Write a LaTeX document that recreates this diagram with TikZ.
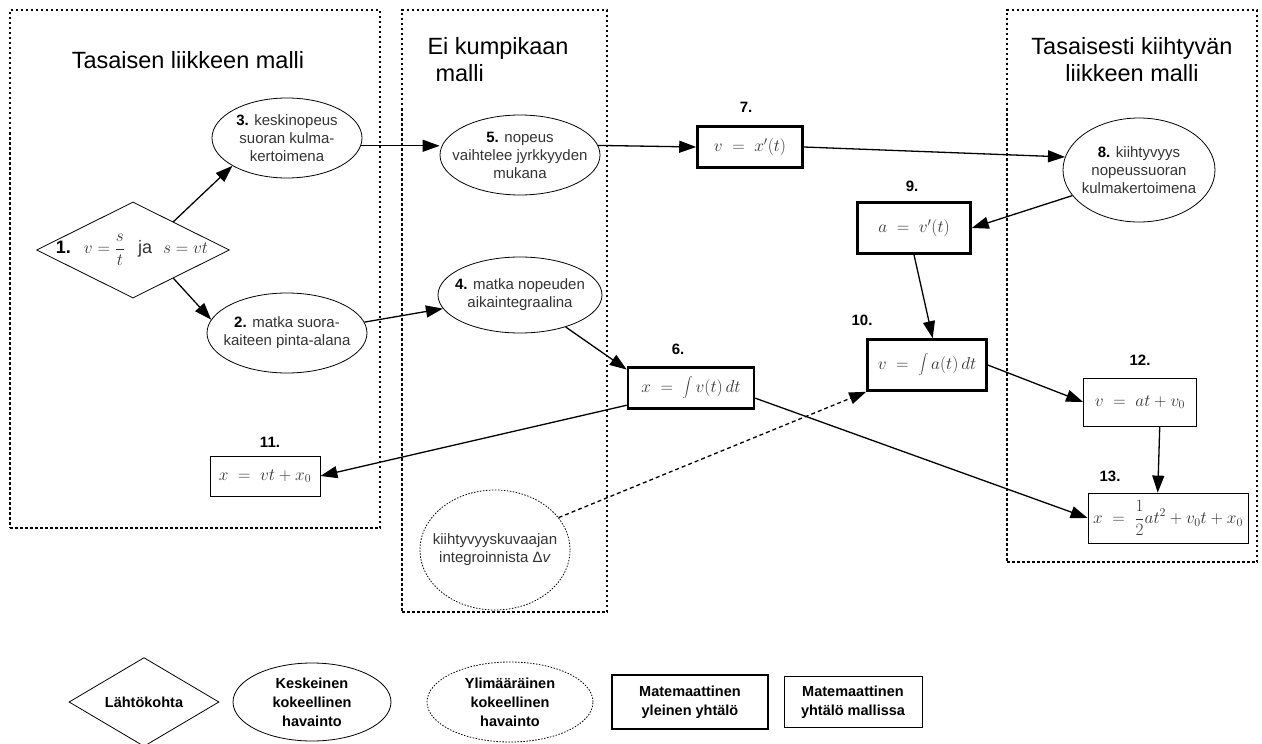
\documentclass[tikz,border=0pt]{standalone}
\usepackage{fontspec}
\setmainfont{Liberation Sans}
\usetikzlibrary{shapes.geometric,arrows.meta,calc}

\begin{document}
\begin{tikzpicture}[x=1pt,y=-1pt,
  every node/.style={font=\fontsize{15}{18}\selectfont, text=black!80, align=center},
  every label/.style={align=center},
  frame/.style={draw, line width=1.2pt, dash pattern=on 2.5pt off 2.5pt, inner sep=0pt},
  obs/.style={ellipse, draw, line width=0.8pt, inner sep=0pt},
  extra/.style={obs, dash pattern=on 1.5pt off 1.5pt},
  start/.style={diamond, draw, line width=0.8pt, inner sep=0pt},
  gen/.style={rectangle, draw, line width=2.6pt, inner sep=0pt, font=\fontsize{17}{20}\selectfont},
  eqn/.style={rectangle, draw, line width=0.8pt, inner sep=0pt, font=\fontsize{17}{20}\selectfont},
  num/.style={font=\fontsize{15}{17}\selectfont\bfseries, text=black},
  title/.style={font=\fontsize{23.5}{27}\selectfont, text=black},
  legend/.style={font=\fontsize{14.5}{19}\selectfont\bfseries, text=black},
  link/.style={line width=1.3pt, -{Triangle[length=17pt,width=12pt]}},
  hint/.style={link, dash pattern=on 4pt off 3pt}
]
\useasboundingbox (0,0) rectangle (1262,744);

% model frames
\node[frame, minimum width=370pt, minimum height=518pt] (frameL) at (195,269) {};
\node[frame, minimum width=205pt, minimum height=602pt] (frameM) at (504.5,311) {};
\node[frame, minimum width=250pt, minimum height=552pt] (frameR) at (1132,286) {};

\node[title] (tL) at (188,60) {Tasaisen liikkeen malli};
\node[title, align=left, anchor=west] (tM) at (424,60) {Ei kumpikaan\\\hspace*{8pt}malli};
\node[title] (tR) at (1132,60) {Tasaisesti kiihtyvän\\liikkeen malli};

% starting point
\node[start, minimum width=193pt, minimum height=96pt] (n1) at (133,250) {};
\node[font=\fontsize{18}{20}\selectfont] (n1t) at (132,250)
  {\textbf{\textcolor{black}{1.}}\hspace{13pt}$v=\displaystyle\frac{s}{t}$\hspace{13pt}ja\hspace{11pt}$s=vt$};

% observations (text set as centred labels so the outlines keep their size)
\node[obs, minimum width=150pt, minimum height=80pt,
  label={center:{\textbf{\textcolor{black}{3.}} keskinopeus\\suoran kulma-\\kertoimena}}] (n3) at (287,138) {};
\node[obs, minimum width=160pt, minimum height=80pt,
  label={center:{\textbf{\textcolor{black}{2.}} matka suora-\\kaiteen pinta-alana}}] (n2) at (287,333) {};
\node[obs, minimum width=160pt, minimum height=80pt,
  label={center:{\textbf{\textcolor{black}{5.}} nopeus\\vaihtelee jyrkkyyden\\mukana}}] (n5) at (520,155) {};
\node[obs, minimum width=164pt, minimum height=76pt,
  label={center:{\textbf{\textcolor{black}{4.}} matka nopeuden\\aikaintegraalina}}] (n4) at (520,295) {};
\node[obs, minimum width=152pt, minimum height=104pt,
  label={center:{\textbf{\textcolor{black}{8.}} kiihtyvyys\\nopeussuoran\\kulmakertoimena}}] (n8) at (1139,170) {};
\node[extra, minimum width=150pt, minimum height=120pt,
  label={center:{kiihtyvyyskuvaajan\\integroinnista Δ\textit{v}}}] (nx) at (495,550) {};

% general equations
\node[gen, minimum width=105pt, minimum height=41pt] (n7) at (750,147) {$v \;=\; x'(t)$};
\node[gen, minimum width=113pt, minimum height=51pt] (n9) at (914,228) {$a \;=\; v'(t)$};
\node[gen, minimum width=119pt, minimum height=51pt] (n10) at (927,365) {$v \;=\; \displaystyle\int a(t)\,dt$};
\node[gen, minimum width=126pt, minimum height=41pt] (n6) at (691,388) {$x \;=\; \displaystyle\int v(t)\,dt$};

% model equations
\node[eqn, minimum width=113pt, minimum height=48pt] (n12) at (1140,402) {$v \;=\; at+v_0$};
\node[eqn, minimum width=160pt, minimum height=50pt] (n13) at (1168,518)
  {$x \;=\; \displaystyle\frac{1}{2}at^2+v_0t+x_0$};
\node[eqn, minimum width=110pt, minimum height=40pt] (n11) at (265,476) {$x \;=\; vt+x_0$};

% numbers
\node[num] (l7) at (746,107) {7.};
\node[num] (l9) at (912,186) {9.};
\node[num] (l10) at (862,320) {10.};
\node[num] (l6) at (678,349) {6.};
\node[num] (l12) at (1140,360) {12.};
\node[num] (l13) at (1110,476) {13.};
\node[num] (l11) at (270,442) {11.};

% connectors
\draw[link] (n1.35) -- (n3.207);
\draw[link] (n1.-35) -- (n2.170);
\draw[link] (n3.-6) -- (n3.-6 -| n5.west);
\draw[link] (n2.8) -- (n4.190);
\draw[link] (n5.7) -- (n7.west);
\draw[link] (n7.east) -- (n8.170);
\draw[link] (n8.201) -- (n9.east);
\draw[link] (n9.south) -- (n10.78);
\draw[link] (n4.-35) -- (n6.164);
\draw[link] (n6.195) -- (n11.east);
\draw[link] (n6.-9) -- (n13.west);
\draw[link] (n10.east) -- (n12.west);
\draw[link] (n12.-51) -- (n13.112);
\draw[hint] (nx.27) -- (n10.south west);

% legend
\node[start, minimum width=150pt, minimum height=76pt, legend] (g1) at (144,702) {Lähtökohta};
\node[obs, minimum width=158pt, minimum height=78pt,
  label={[legend]center:{Keskeinen\\kokeellinen\\havainto}}] (g2) at (312,702) {};
\node[extra, minimum width=166pt, minimum height=80pt,
  label={[legend]center:{Ylimääräinen\\kokeellinen\\havainto}}] (g3) at (510,702) {};
\node[gen, minimum width=156pt, minimum height=54pt, legend] (g4) at (690,702) {Matemaattinen\\yleinen yhtälö};
\node[eqn, minimum width=138pt, minimum height=51pt, legend] (g5) at (853,702) {Matemaattinen\\yhtälö mallissa};
\end{tikzpicture}
\end{document}
